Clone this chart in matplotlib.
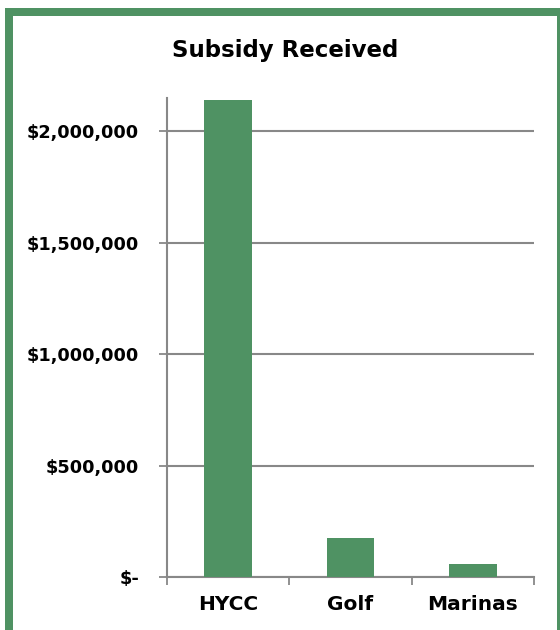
import matplotlib
matplotlib.use("Agg")
import matplotlib.pyplot as plt
from matplotlib.patches import Rectangle
from matplotlib.ticker import FuncFormatter

categories = ["HYCC", "Golf", "Marinas"]
subsidy = [2139000, 175000, 58000]
y_ticks = [0, 500000, 1000000, 1500000, 2000000]
title = "Subsidy Received"

green = "#4F9263"
grid_gray = "#888888"

plt.rcParams['font.family'] = ['DejaVu Sans']

fig = plt.figure(figsize=(5.6, 6.3), dpi=100)
ax = fig.add_axes([167/560, 1-577/630, (534-167)/560, (577-98)/630])

x = list(range(len(categories)))
ax.bar(x, subsidy, width=0.39, color=green, zorder=3)
ax.set_xlim(-0.5, len(categories)-0.5)
ax.set_ylim(0, 2150000)

ax.set_yticks(y_ticks)
def fmt(v, pos):
    if v == 0:
        return "$-"
    return "${:,.0f}".format(v)
ax.yaxis.set_major_formatter(FuncFormatter(fmt))
ax.yaxis.grid(True, color=grid_gray, linewidth=1.5, zorder=0)

ax.set_xticks([i + 0.5 for i in range(-1, len(categories))], minor=False)
ax.set_xticklabels([])
ax.set_xticks(x, minor=True)
ax.set_xticklabels(categories, minor=True)
ax.tick_params(axis='x', which='major', length=6, width=1.3, color=grid_gray, direction='out')
ax.tick_params(axis='x', which='minor', length=0, pad=13, labelsize=14.5)
ax.tick_params(axis='y', length=6, width=1.3, color=grid_gray, pad=14, labelsize=12.8)
for lab in ax.get_xticklabels(minor=True) + ax.get_yticklabels():
    lab.set_fontweight('bold')

for s in ['top', 'right']:
    ax.spines[s].set_visible(False)
for s in ['left', 'bottom']:
    ax.spines[s].set_color(grid_gray)
    ax.spines[s].set_linewidth(1.5)

fig.text(285/560, 1-50/630, title, ha='center', va='center', fontsize=16.5, fontweight='bold')

frame = Rectangle((9/560, -0.05), (560.5-9)/560, 1-12/630+0.05, transform=fig.transFigure,
                  fill=False, edgecolor=green, linewidth=8*72/100, clip_on=False)
fig.patches.append(frame)

fig.savefig("out.png", dpi=100)
